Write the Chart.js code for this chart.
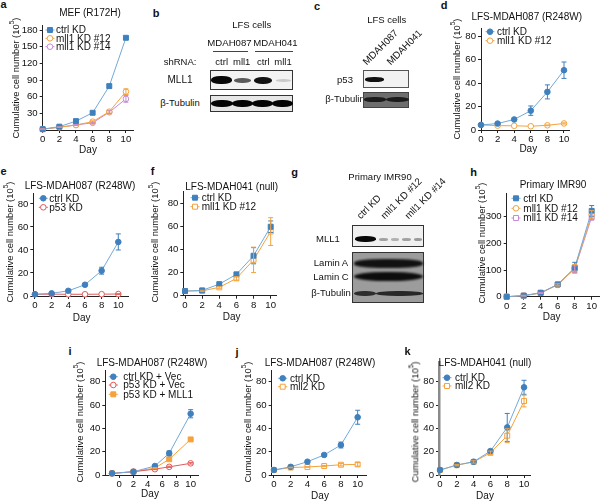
<!DOCTYPE html>
<html><head><meta charset="utf-8">
<script src="https://cdn.jsdelivr.net/npm/chart.js@4.4.1/dist/chart.umd.min.js"></script>
<style>
html,body{margin:0;padding:0;background:#fff;}
#page{position:relative;width:600px;height:502px;overflow:hidden;font-family:"Liberation Sans",Arial,sans-serif;color:#111;background:#fff;}
.t{position:absolute;white-space:nowrap;transform:translate(-50%,-50%);font-size:10px;line-height:1;}
.yt{position:absolute;white-space:nowrap;transform:translate(-50%,-50%) rotate(-90deg);font-size:9.4px;line-height:1;}
.yt sup{font-size:6.5px;vertical-align:top;position:relative;top:-2px;}
.lt{position:absolute;white-space:nowrap;transform:translate(-50%,-50%);font-weight:bold;font-size:11px;line-height:1;}
.rot{position:absolute;white-space:nowrap;font-size:9.8px;line-height:1;transform-origin:0 100%;transform:rotate(-45deg);}
.box{position:absolute;border:1px solid #333;box-sizing:border-box;overflow:hidden;}
.band{position:absolute;border-radius:45%;filter:blur(0.7px);}
.hl{position:absolute;border-top:1px solid #444;height:0;}
canvas{position:absolute;}
</style></head><body><div id="page"></div>
<script>
const FONT = '"Liberation Sans", Arial, sans-serif';

// ---------- data ----------
const days = [0, 2, 4, 6, 8, 10];
const daysI = [-1, 2, 5, 7, 10];
const xTicks = [0, 2, 4, 6, 8, 10];
const yTicks80 = [0, 20, 40, 60, 80];

// a: MEF (R172H)
const aYTicks = [30, 60, 90, 120, 150, 180];
const aCtrl = [1.5, 6, 16, 31, 79, 166];
const aCtrlErr = [0.5, 0.8, 1.5, 2, 3, 2];
const aMll12 = [1.5, 5, 9, 15, 33, 69];
const aMll12Err = [0.5, 0.5, 0.8, 1.5, 2.5, 5];
const aMll14 = [1.5, 5, 9, 13, 32, 56];
const aMll14Err = [0.5, 0.5, 0.8, 1.5, 2.5, 6];

// d: LFS-MDAH087 (R248W)
const dCtrl = [4.3, 5.5, 9, 16.5, 32.5, 51];
const dCtrlErr = [0, 0.5, 1, 4, 6, 7];
const dMll12 = [4.3, 3.7, 3.6, 3.2, 4, 5.6];
const dMll12Err = [0, 0, 0, 0, 0.3, 0.5];

// e: LFS-MDAH087 (R248W)
const eCtrl = [1.5, 2.3, 4.5, 9.8, 22, 47];
const eCtrlErr = [0, 0, 0.5, 1, 3, 7];
const eP53 = [1.5, 1.6, 1.5, 1.5, 1.6, 1.7];
const eP53Err = [0, 0, 0, 0, 0, 0.3];

// f: LFS-MDAH041 (null)
const fCtrl = [4, 4.6, 10, 18.5, 34.6, 59.7];
const fCtrlErr = [0, 0.5, 0.8, 1, 7, 5];
const fMll12 = [4, 4.2, 7.2, 15, 31, 55.5];
const fMll12Err = [0, 0.5, 0.8, 1.5, 11, 12];

// h: Primary IMR90
const hYTicks = [0, 100, 200, 300];
const hCtrl = [0, 4, 15, 46, 109, 322];
const hCtrlErr = [0, 1, 2, 5, 20, 20];
const hMll12 = [0, 4, 14, 44, 106, 308];
const hMll12Err = [0, 1, 2, 4, 15, 15];
const hMll14 = [0, 4, 14, 46, 104, 299];
const hMll14Err = [0, 1, 2, 4, 12, 12];

// i: LFS-MDAH087 (R248W) rescue
const iCtrlVec = [1.4, 2.8, 7.7, 18.6, 52.5];
const iCtrlVecErr = [0, 0, 0.5, 2, 3.5];
const iP53Vec = [1.4, 2.8, 5, 7, 10];
const iP53VecErr = [0, 0, 0.4, 0.5, 0.6];
const iP53Mll1 = [1.4, 2.8, 6, 13.5, 30.5];
const iP53Mll1Err = [0, 0, 0.4, 0.8, 1];

// j: LFS-MDAH087 (R248W) mll2
const jCtrl = [4.3, 7, 11.4, 17.2, 25.7, 49.5];
const jCtrlErr = [0, 0.5, 0.8, 1, 2.5, 6];
const jMll2 = [4.3, 6.4, 6.9, 7.7, 8.8, 9.1];
const jMll2Err = [0, 0.3, 0.3, 0.5, 1, 1.5];

// k: LFS-MDAH041 (null) mll2
const kCtrl = [4.3, 8.6, 11.4, 20.5, 40.8, 75.2];
const kCtrlErr = [0, 0.5, 1, 1.5, 12, 6];
const kMll2 = [4.3, 8.4, 11.2, 19, 33.7, 63.4];
const kMll2Err = [0, 0.5, 1, 1.5, 6, 5];

// ---------- colours ----------
const BLUE = '#3f80bd', BLUE_L = '#72a9da';
const ORANGE = '#f4a23c', PURPLE = '#c48ad8', RED = '#e05a5a';

const page = document.getElementById('page');

function series(label, xs, ys, errs, color, style, filled, lineColor) {
  return {
    label, data: xs.map((x, i) => ({ x, y: ys[i] })), errors: errs,
    borderColor: lineColor || color, borderWidth: 1,
    pointStyle: style, pointRadius: style === 'rect' ? 3.5 : 2.8,
    pointBorderWidth: 1, pointBorderColor: color,
    pointBackgroundColor: filled ? color : '#fff', backgroundColor: color,
    pointHoverRadius: 3, showLine: true, tension: 0, fill: false, clip: false, errColor: color
  };
}

const errPlugin = {
  id: 'errbars',
  afterDatasetsDraw(chart) {
    const ctx = chart.ctx, xs = chart.scales.x, ys = chart.scales.y;
    chart.data.datasets.forEach(ds => {
      if (!ds.errors) return;
      ctx.save(); ctx.strokeStyle = ds.errColor; ctx.lineWidth = 1;
      ds.data.forEach((p, i) => {
        const e = ds.errors[i]; if (!e) return;
        const x = xs.getPixelForValue(p.x);
        const y1 = ys.getPixelForValue(p.y + e), y2 = ys.getPixelForValue(p.y - e);
        ctx.beginPath();
        ctx.moveTo(x, y1); ctx.lineTo(x, y2);
        ctx.moveTo(x - 2.5, y1); ctx.lineTo(x + 2.5, y1);
        ctx.moveTo(x - 2.5, y2); ctx.lineTo(x + 2.5, y2);
        ctx.stroke();
      });
      ctx.restore();
    });
  }
};

function drawMarker(ctx, ds, x, y) {
  ctx.save();
  ctx.fillStyle = ds.pointBackgroundColor; ctx.strokeStyle = ds.pointBorderColor; ctx.lineWidth = ds.pointBorderWidth;
  if (Chart.helpers && Chart.helpers.drawPoint) {
    Chart.helpers.drawPoint(ctx, { pointStyle: ds.pointStyle, radius: ds.pointRadius, rotation: 0, borderWidth: ds.pointBorderWidth }, x, y);
  } else {
    ctx.beginPath();
    if (ds.pointStyle === 'rect') { const s = ds.pointRadius * Math.SQRT1_2; ctx.rect(x - s, y - s, 2 * s, 2 * s); }
    else ctx.arc(x, y, ds.pointRadius, 0, Math.PI * 2);
    ctx.fill(); ctx.stroke();
  }
  ctx.restore();
}

const legendPlugin = {
  id: 'miniLegend',
  afterDraw(chart, args, opts) {
    if (!opts || !opts.rows) return;
    const ctx = chart.ctx;
    chart.data.datasets.forEach((ds, i) => {
      const y = opts.rows[i] - opts.oy, mx = opts.mx - opts.ox, tx = opts.tx - opts.ox;
      ctx.save();
      ctx.strokeStyle = ds.borderColor; ctx.lineWidth = 1;
      ctx.beginPath(); ctx.moveTo(mx - 4.5, y); ctx.lineTo(mx + 4.5, y); ctx.stroke();
      drawMarker(ctx, ds, mx, y);
      ctx.fillStyle = '#111'; ctx.font = '10px ' + FONT;
      ctx.textBaseline = 'middle'; ctx.textAlign = 'left';
      ctx.fillText(ds.label, tx, y + 0.5);
      ctx.restore();
    });
  }
};

function panel(p) {
  const wy = 30, pt = 10, pr = 9, hx = 22;
  const cl = Math.floor(p.L - wy), ct = Math.floor(p.T - pt);
  const cw = Math.ceil(p.R + pr) - cl, ch = Math.ceil(p.B + hx) - ct;
  const cv = document.createElement('canvas');
  cv.width = cw; cv.height = ch;
  cv.style.left = cl + 'px'; cv.style.top = ct + 'px';
  cv.style.width = cw + 'px'; cv.style.height = ch + 'px';
  page.appendChild(cv);
  const padTop = p.T - ct, yW = p.L - cl, padRight = cw - (p.R - cl), xH = ch - (p.B - ct);
  const axisCol = '#222';
  const yBorder = p.yBorder || { color: axisCol, width: 1 };
  new Chart(cv, {
    type: 'line',
    data: { datasets: p.datasets },
    options: {
      responsive: false, animation: false, devicePixelRatio: 1,
      layout: { padding: { top: padTop, right: padRight, left: 0, bottom: 0 } },
      plugins: {
        legend: { display: false }, title: { display: false }, tooltip: { enabled: false },
        miniLegend: Object.assign({ ox: cl, oy: ct }, p.legend)
      },
      scales: {
        x: {
          type: 'linear', min: p.xmin, max: p.xmax,
          afterFit: s => { s.height = xH; },
          afterBuildTicks: s => { s.ticks = p.xt.map(v => ({ value: v })); },
          ticks: { font: { size: 9.6, family: FONT }, color: '#111', padding: 1, maxRotation: 0, autoSkip: false },
          grid: { display: true, drawOnChartArea: false, drawTicks: true, tickLength: 3, color: axisCol, tickColor: axisCol },
          border: { display: true, color: axisCol, width: 1 }
        },
        y: {
          type: 'linear', min: 0, max: p.ymax,
          afterFit: s => { s.width = yW; },
          afterBuildTicks: s => { s.ticks = p.yt.map(v => ({ value: v })); },
          ticks: { font: { size: 9.6, family: FONT }, color: '#111', padding: 2, autoSkip: false },
          grid: { display: true, drawOnChartArea: false, drawTicks: true, tickLength: 3, color: axisCol, tickColor: axisCol },
          border: { display: true, color: yBorder.color, width: yBorder.width }
        }
      }
    },
    plugins: [errPlugin, legendPlugin]
  });
}

// ---------- charts ----------
panel({ L: 42.7, T: 25, R: 133, B: 130, xmin: 0, xmax: 10.85, ymax: 189, xt: xTicks, yt: aYTicks,
  legend: { mx: 50, tx: 56, rows: [30, 38.3, 46.7] },
  datasets: [
    series('ctrl KD', days, aCtrl, aCtrlErr, BLUE, 'rect', true, BLUE_L),
    series('mll1 KD #12', days, aMll12, aMll12Err, ORANGE, 'circle', false),
    series('mll1 KD #14', days, aMll14, aMll14Err, PURPLE, 'circle', false)
  ] });

panel({ L: 481, T: 28, R: 569.3, B: 130, xmin: 0, xmax: 10.64, ymax: 87, xt: xTicks, yt: yTicks80,
  legend: { mx: 490, tx: 497, rows: [31.7, 40.7] },
  datasets: [
    series('ctrl KD', days, dCtrl, dCtrlErr, BLUE, 'circle', true, BLUE_L),
    series('mll1 KD #12', days, dMll12, dMll12Err, ORANGE, 'circle', false)
  ] });

panel({ L: 33.3, T: 193.3, R: 128.3, B: 296, xmin: -0.2, xmax: 11.2, ymax: 89.3, xt: xTicks, yt: yTicks80,
  legend: { mx: 43.3, tx: 49.3, rows: [198.3, 207.3] },
  datasets: [
    series('ctrl KD', days, eCtrl, eCtrlErr, BLUE, 'circle', true, BLUE_L),
    series('p53 KD', days, eP53, eP53Err, RED, 'circle', false)
  ] });

panel({ L: 183.3, T: 191, R: 276.7, B: 295.7, xmin: -0.2, xmax: 10.7, ymax: 90.6, xt: xTicks, yt: yTicks80,
  legend: { mx: 195, tx: 201.7, rows: [197.7, 206.7] },
  datasets: [
    series('ctrl KD', days, fCtrl, fCtrlErr, BLUE, 'rect', true, BLUE_L),
    series('mll1 KD #12', days, fMll12, fMll12Err, ORANGE, 'rect', false)
  ] });

panel({ L: 506.7, T: 193.3, R: 599, B: 296.7, xmin: 0, xmax: 10.86, ymax: 388, xt: xTicks, yt: hYTicks,
  legend: { mx: 516, tx: 523.3, rows: [198.3, 208.3, 218] },
  datasets: [
    series('ctrl KD', days, hCtrl, hCtrlErr, BLUE, 'rect', true, BLUE_L),
    series('mll1 KD #12', days, hMll12, hMll12Err, ORANGE, 'circle', false),
    series('mll1 KD #14', days, hMll14, hMll14Err, PURPLE, 'rect', false)
  ] });

panel({ L: 105.3, T: 370, R: 198.3, B: 475, xmin: -1.94, xmax: 11.07, ymax: 90, xt: xTicks, yt: yTicks80,
  legend: { mx: 113.3, tx: 123.3, rows: [376.7, 385, 394.3] },
  datasets: [
    series('ctrl KD + Vec', daysI, iCtrlVec, iCtrlVecErr, BLUE, 'circle', true, BLUE_L),
    series('p53 KD + Vec', daysI, iP53Vec, iP53VecErr, RED, 'circle', false),
    series('p53 KD + MLL1', daysI, iP53Mll1, iP53Mll1Err, ORANGE, 'rect', true)
  ] });

panel({ L: 271.7, T: 370, R: 366.7, B: 475, xmin: -0.27, xmax: 11.08, ymax: 90, xt: xTicks, yt: yTicks80,
  legend: { mx: 282.7, tx: 290, rows: [378.3, 386.7] },
  datasets: [
    series('ctrl KD', days, jCtrl, jCtrlErr, BLUE, 'circle', true, BLUE_L),
    series('mll2 KD', days, jMll2, jMll2Err, ORANGE, 'rect', false)
  ] });

panel({ L: 439, T: 362, R: 530, B: 475, xmin: -0.12, xmax: 10.71, ymax: 96.9, xt: xTicks, yt: yTicks80,
  yBorder: { color: '#8a8a8a', width: 2.5 },
  legend: { mx: 447, tx: 455, rows: [377.7, 386] },
  datasets: [
    series('ctrl KD', days, kCtrl, kCtrlErr, BLUE, 'circle', true, BLUE_L),
    series('mll2 KD', days, kMll2, kMll2Err, ORANGE, 'rect', false)
  ] });

// ---------- text ----------
function el(cls, x, y, html, style) {
  const d = document.createElement('div');
  d.className = cls; d.style.left = x + 'px'; d.style.top = y + 'px';
  if (style) d.style.cssText += style;
  d.innerHTML = html; page.appendChild(d); return d;
}
const YT = 'Cumulative cell number (10<sup>5</sup>)';
const CH = [
  ['a', 3.5, 3.5], ['b', 156, 13], ['c', 317, 5.5], ['d', 444, 5], ['e', 3.5, 170.5], ['f', 152.5, 170.5],
  ['g', 294.5, 171.5], ['h', 473.7, 172], ['i', 70, 350.5], ['j', 237, 351.5], ['k', 407.5, 351]
];
CH.forEach(c => el('lt', c[1], c[2], c[0]));

const titles = [
  ['MEF (R172H)', 90, 13], ['LFS-MDAH087 (R248W)', 526.7, 16.7], ['LFS-MDAH087 (R248W)', 80, 185.7],
  ['LFS-MDAH041 (null)', 231.7, 186.7], ['Primary IMR90', 553, 185], ['LFS-MDAH087 (R248W)', 152, 363.3],
  ['LFS-MDAH087 (R248W)', 320, 363], ['LFS-MDAH041 (null)', 485, 363.3]
];
titles.forEach(t => el('t', t[1], t[2], t[0]));

const yTitles = [[16, 78], [456.7, 79], [10, 242], [155, 242], [481.7, 243], [80, 421.7], [248.3, 421.7], [415, 421.7]];
yTitles.forEach(t => el('yt', t[0], t[1], YT));

const dayLabels = [[88, 150], [528.3, 149.3], [81.7, 318.3], [231.7, 316.7], [551.7, 316.7], [150, 494], [320, 495.7], [485, 495.7]];
dayLabels.forEach(t => el('t', t[0], t[1], 'Day', 'font-size:10px'));

// ---------- western blots ----------
function box(x1, y1, x2, y2, bg, bc) {
  el('box', x1, y1, '', `width:${x2 - x1}px;height:${y2 - y1}px;background:${bg};` + (bc ? `border-color:${bc};` : ''));
}
function band(x1, y1, x2, y2, col, op, blur) {
  el('band', x1, y1, '', `width:${x2 - x1}px;height:${y2 - y1}px;background:${col};opacity:${op == null ? 1 : op};` + (blur ? `filter:blur(${blur}px);` : ''));
}
function hline(x1, x2, y) { el('hl', x1, y, '', `width:${x2 - x1}px;`); }
function rot(x, y, txt) { el('rot', x, y - 10, txt); }

// b
el('t', 251.7, 25, 'LFS cells', 'font-size:9.5px');
el('t', 229.5, 43.3, 'MDAH087', 'font-size:9.6px');
el('t', 275.5, 43.3, 'MDAH041', 'font-size:9.6px');
hline(213, 248, 50.5); hline(255, 293, 50.5);
el('t', 180, 61.7, 'shRNA:', 'font-size:9.5px');
el('t', 221.7, 61.7, 'ctrl', 'font-size:9.5px'); el('t', 241.7, 61.7, 'mll1', 'font-size:9.5px');
el('t', 263.3, 61.7, 'ctrl', 'font-size:9.5px'); el('t', 283, 61.7, 'mll1', 'font-size:9.5px');
el('t', 180, 80, 'MLL1');
el('t', 180, 103.3, 'β-Tubulin', 'font-size:9.5px');
box(210, 70, 293.3, 90, '#f3f3f3');
band(211, 76, 231.5, 84, '#080808', 1);
band(233.5, 77.5, 251, 82.5, '#222', 0.72);
band(253.5, 76.5, 272, 83.5, '#080808', 0.95);
band(276, 78.5, 291, 81.5, '#555', 0.25);
box(210, 95, 293.3, 111.7, '#e6e6e6');
band(211, 99.5, 233, 106.5, '#050505', 1);
band(232, 99.5, 253, 106.5, '#050505', 1);
band(252, 99.5, 273, 106.5, '#050505', 1);
band(272, 99.5, 292.5, 106.5, '#050505', 1);

// c
el('t', 386.7, 20, 'LFS cells', 'font-size:9.5px');
rot(368, 67, 'MDAH087'); rot(392, 67, 'MDAH041');
el('t', 345, 80, 'p53', 'font-size:9.5px');
el('t', 345, 99.3, 'β-Tubulin', 'font-size:9.5px');
box(363.3, 70, 409.3, 88.3, '#f2f2f2', '#555');
band(364.5, 77, 384, 81.5, '#111', 1);
box(363.3, 91.7, 409.3, 108.3, '#6e6e6e', '#444');
band(364, 97, 386, 101.5, '#1c1c1c', 1);
band(386, 97, 409, 102, '#1c1c1c', 1);

// g
el('t', 380, 176.7, 'Primary IMR90', 'font-size:9.5px');
rot(362, 221, 'ctrl KD'); rot(386, 221, 'mll1 KD #12'); rot(409.5, 221, 'mll1 KD #14');
el('t', 328, 239, 'MLL1', 'font-size:9.5px');
el('t', 331, 263, 'Lamin A', 'font-size:9.5px');
el('t', 331, 276.7, 'Lamin C', 'font-size:9.5px');
el('t', 331, 293.3, 'β-Tubulin', 'font-size:9.5px');
box(352.3, 225, 424, 246.7, '#f0f0f0');
band(355, 235.5, 376, 241.5, '#080808', 1);
band(379, 238, 388, 241, '#555', 0.5);
band(391, 238, 399, 241, '#555', 0.4);
band(402, 238, 411, 241, '#555', 0.5);
band(414, 238, 422, 241, '#555', 0.55);
box(352.3, 252.3, 424, 303.3, '#9c9c9c');
band(353.5, 259, 423, 267.5, '#111', 1, 1);
band(353.5, 271.5, 423, 281, '#0c0c0c', 1, 1);
band(354, 290.5, 376, 295.5, '#222', 0.9);
band(376, 291, 423, 296, '#222', 0.95);
</script></body></html>
